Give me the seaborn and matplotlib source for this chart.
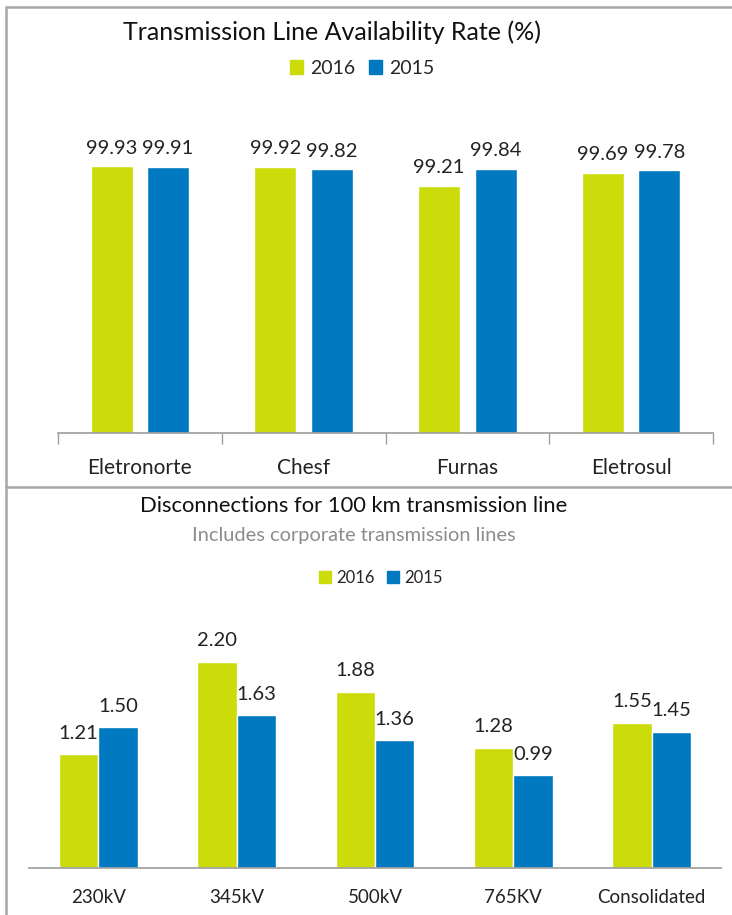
"""Transmission availability and disconnection rates, 2016 vs 2015."""

import pandas as pd
import seaborn as sns
import matplotlib.pyplot as plt
from matplotlib.patches import Patch, Rectangle
from matplotlib.lines import Line2D

# Top chart data
companies = ["Eletronorte", "Chesf", "Furnas", "Eletrosul"]
avail_2016 = [99.93, 99.92, 99.21, 99.69]
avail_2015 = [99.91, 99.82, 99.84, 99.78]

# Bottom chart data
voltages = ["230kV", "345kV", "500kV", "765KV", "Consolidated"]
disc_2016 = [1.21, 2.20, 1.88, 1.28, 1.55]
disc_2015 = [1.50, 1.63, 1.36, 0.99, 1.45]

years = ["2016", "2015"]
GREEN = "#CCDB0A"
BLUE = "#0079C1"
palette = {"2016": GREEN, "2015": BLUE}

sns.set_theme(style="white")
plt.rcParams["font.family"] = ["Lato", "DejaVu Sans"]

avail_df = pd.DataFrame({
    "cat": companies * 2,
    "year": ["2016"] * len(companies) + ["2015"] * len(companies),
    "val": avail_2016 + avail_2015,
})
disc_df = pd.DataFrame({
    "cat": voltages * 2,
    "year": ["2016"] * len(voltages) + ["2015"] * len(voltages),
    "val": disc_2016 + disc_2015,
})

fig = plt.figure(figsize=(7.32, 9.15), dpi=100)

# panel borders
border = "#A6A6A6"
fig.add_artist(Rectangle((6 / 732, 1 - 487 / 915), 1.2, (487 - 7) / 915,
                         transform=fig.transFigure, fill=False, ec=border, lw=1.8))
fig.add_artist(Line2D([6 / 732, 6 / 732], [0, 1 - 487 / 915],
                      transform=fig.transFigure, color=border, lw=1.8))

# ---- top chart
ax1 = fig.add_axes([58 / 732, 1 - 433 / 915, 655 / 732, 333 / 915])
sns.barplot(data=avail_df, x="cat", y="val", hue="year", hue_order=years,
            palette=palette, width=0.69, gap=0.26, ax=ax1, legend=False,
            saturation=1)
ax1.set_ylim(90, 102.4)
ax1.set_xlim(-0.5, 3.5)
for c in ax1.containers:
    ax1.bar_label(c, fmt="%.2f", padding=7, fontsize=14.5, color="#222222")
ax1.set_xlabel("")
ax1.set_ylabel("")
ax1.set_yticks([])
for s in ["top", "right", "left"]:
    ax1.spines[s].set_visible(False)
ax1.spines["bottom"].set_color("#A0A0A0")
ax1.set_xticks([-0.5, 0.5, 1.5, 2.5, 3.5], minor=True)
ax1.tick_params(axis="x", which="minor", bottom=True, length=8, color="#A0A0A0", width=1)
ax1.tick_params(axis="x", which="major", bottom=False, labelsize=15, pad=12,
                labelcolor="#222222")
ax1.set_facecolor("none")

fig.text(332 / 732, 1 - 32 / 915, "Transmission Line Availability Rate (%)",
         ha="center", va="center", fontsize=18, color="#111111")
handles = [Patch(color=palette[y], label=y) for y in years]
fig.legend(handles=handles, loc="center", bbox_to_anchor=(362 / 732, 1 - 68 / 915),
           ncol=2, frameon=False, fontsize=14, handlelength=0.7, handleheight=0.7,
           handletextpad=0.35, columnspacing=0.7)

# ---- bottom chart
ax2 = fig.add_axes([29 / 732, 1 - 868 / 915, 692 / 732, 244 / 915])
sns.barplot(data=disc_df, x="cat", y="val", hue="year", hue_order=years,
            palette=palette, width=0.57, ax=ax2, legend=False, saturation=1)
ax2.set_ylim(0, 2.6)
ax2.set_xlim(-0.5, 4.5)
for c in ax2.containers:
    ax2.bar_label(c, fmt="%.2f", padding=9, fontsize=14.5, color="#222222")
ax2.set_xlabel("")
ax2.set_ylabel("")
ax2.set_yticks([])
for s in ["top", "right", "left"]:
    ax2.spines[s].set_visible(False)
ax2.spines["bottom"].set_color("#A0A0A0")
ax2.tick_params(axis="x", bottom=False, labelsize=13.5, pad=9, labelcolor="#222222")
ax2.set_facecolor("none")

fig.text(354 / 732, 1 - 506 / 915, "Disconnections for 100 km transmission line",
         ha="center", va="center", fontsize=15.8, color="#111111")
fig.text(354 / 732, 1 - 535 / 915, "Includes corporate transmission lines",
         ha="center", va="center", fontsize=14.4, color="#8C8C8C")
fig.legend(handles=handles, loc="center", bbox_to_anchor=(381 / 732, 1 - 578 / 915),
           ncol=2, frameon=False, fontsize=12, handlelength=0.7, handleheight=0.7,
           handletextpad=0.35, columnspacing=0.7)

fig.savefig("out.png", dpi=100)
